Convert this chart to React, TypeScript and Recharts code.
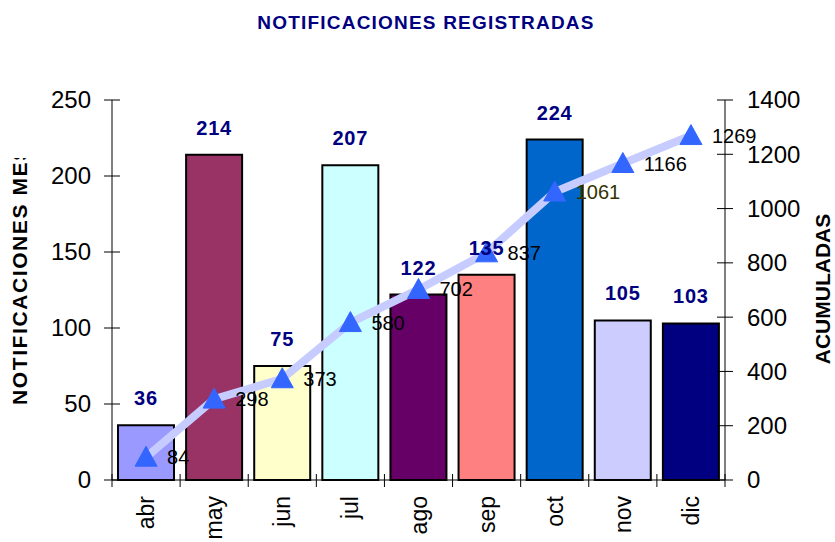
import React from 'react';
import { ComposedChart, Bar, Line, XAxis, YAxis, Cell, LabelList, Customized } from 'recharts';

const months = ['abr', 'may', 'jun', 'jul', 'ago', 'sep', 'oct', 'nov', 'dic'];
const monthly = [36, 214, 75, 207, 122, 135, 224, 105, 103];
const cumulative = [84, 298, 373, 580, 702, 837, 1061, 1166, 1269];
const barColors = ['#9999FF', '#993366', '#FFFFCC', '#CCFFFF', '#660066', '#FF8080', '#0066CC', '#CCCCFF', '#000080'];
const cumLabelColors = ['#000', '#000', '#000', '#000', '#000', '#000', '#333300', '#000', '#000'];
const leftTicks = [0, 50, 100, 150, 200, 250];
const rightTicks = [0, 200, 400, 600, 800, 1000, 1200, 1400];

const data = months.map((m, i) => ({ month: m, monthly: monthly[i], cumulative: cumulative[i] }));

const W = 835;
const H = 542;
const PLOT_LEFT = 112;
const PLOT_RIGHT = 725;
const PLOT_TOP = 100;
const PLOT_BOTTOM = 480;
const BAND = (PLOT_RIGHT - PLOT_LEFT) / months.length;
const FONT = '"Liberation Sans", Arial, sans-serif';

const LeftTick = (props: any) => {
  const { x, y, payload } = props;
  return (
    <g>
      <line x1={x - 8} x2={x + 8} y1={y} y2={y} stroke="#000" strokeWidth={1} />
      <text x={x - 21} y={y} dy="0.35em" textAnchor="end" fontSize={24} fontFamily={FONT} fill="#000">
        {payload.value}
      </text>
    </g>
  );
};

const RightTick = (props: any) => {
  const { x, y, payload } = props;
  return (
    <g>
      <line x1={x - 8} x2={x + 8} y1={y} y2={y} stroke="#000" strokeWidth={1} />
      <text x={x + 22} y={y} dy="0.35em" textAnchor="start" fontSize={24} fontFamily={FONT} fill="#000">
        {payload.value}
      </text>
    </g>
  );
};

const XTick = (props: any) => {
  const { x, y, payload, index } = props;
  const ty = y + 16;
  return (
    <g>
      <line x1={x - BAND / 2} x2={x - BAND / 2} y1={y - 6} y2={y + 7} stroke="#000" strokeWidth={1} />
      {index === months.length - 1 && (
        <line x1={x + BAND / 2} x2={x + BAND / 2} y1={y - 6} y2={y + 7} stroke="#000" strokeWidth={1} />
      )}
      <text
        x={x}
        y={ty}
        dy="0.35em"
        textAnchor="end"
        fontSize={23}
        fontFamily={FONT}
        fill="#000"
        transform={`rotate(-90, ${x}, ${ty})`}
      >
        {payload.value}
      </text>
    </g>
  );
};

const Triangle = (props: any) => {
  const { cx, cy, index } = props;
  if (cx == null || cy == null) return <g key={index} />;
  return (
    <polygon
      key={index}
      points={`${cx},${cy - 11} ${cx - 11},${cy + 9} ${cx + 11},${cy + 9}`}
      fill="#3366FF"
      stroke="#3366FF"
      strokeWidth={1}
    />
  );
};

const BarLabel = (props: any) => {
  const { x, y, width, value } = props;
  return (
    <text
      x={x + width / 2}
      y={y - 20}
      textAnchor="middle"
      fontSize={20}
      fontWeight="bold"
      letterSpacing={0.8}
      fontFamily={FONT}
      fill="#000080"
    >
      {value}
    </text>
  );
};

const LineLabel = (props: any) => {
  const { x, y, value, index } = props;
  return (
    <text
      x={x + 21}
      y={y}
      dy="0.35em"
      textAnchor="start"
      fontSize={20}
      fontFamily={FONT}
      fill={cumLabelColors[index] || '#000'}
    >
      {value}
    </text>
  );
};

const Decorations = () => (
  <g>
    <defs>
      <clipPath id="leftLabelClip">
        <rect x={0} y={158} width={60} height={300} />
      </clipPath>
    </defs>
    <text
      x={426}
      y={29}
      textAnchor="middle"
      fontSize={19}
      fontWeight="bold"
      letterSpacing={1.2}
      fontFamily={FONT}
      fill="#000080"
    >
      NOTIFICACIONES REGISTRADAS
    </text>
    <g clipPath="url(#leftLabelClip)">
      <text
        x={20}
        y={405}
        dy="0.35em"
        textAnchor="start"
        fontSize={21}
        fontWeight="bold"
        letterSpacing={1.6}
        fontFamily={FONT}
        fill="#000"
        transform="rotate(-90, 20, 405)"
      >
        NOTIFICACIONES MES
      </text>
    </g>
    <text
      x={823}
      y={289}
      dy="0.35em"
      textAnchor="middle"
      fontSize={21}
      fontWeight="bold"
      fontFamily={FONT}
      fill="#000"
      transform="rotate(-90, 823, 289)"
    >
      ACUMULADAS
    </text>
  </g>
);

export default function App() {
  return (
    <div style={{ position: 'absolute', left: 0, top: 0, width: W, height: H, background: '#fff' }}>
      <ComposedChart
        width={W}
        height={H}
        data={data}
        margin={{ top: PLOT_TOP, right: 0, bottom: 0, left: 0 }}
        barCategoryGap={6}
      >
        <XAxis
          dataKey="month"
          height={H - PLOT_BOTTOM}
          tickSize={0}
          tickMargin={0}
          tickLine={false}
          axisLine={{ stroke: '#000', strokeWidth: 1 }}
          tick={<XTick />}
          interval={0}
        />
        <YAxis
          yAxisId="left"
          orientation="left"
          width={PLOT_LEFT}
          domain={[0, 250]}
          ticks={leftTicks}
          tickSize={0}
          tickMargin={0}
          tickLine={false}
          axisLine={{ stroke: '#000', strokeWidth: 1 }}
          tick={<LeftTick />}
          interval={0}
        />
        <YAxis
          yAxisId="right"
          orientation="right"
          width={W - PLOT_RIGHT}
          domain={[0, 1400]}
          ticks={rightTicks}
          tickSize={0}
          tickMargin={0}
          tickLine={false}
          axisLine={{ stroke: '#000', strokeWidth: 1 }}
          tick={<RightTick />}
          interval={0}
        />
        <Bar yAxisId="left" dataKey="monthly" stroke="#000" strokeWidth={2} isAnimationActive={false}>
          {data.map((d, i) => (
            <Cell key={d.month} fill={barColors[i]} />
          ))}
          <LabelList dataKey="monthly" content={<BarLabel />} />
        </Bar>
        <Line
          yAxisId="right"
          dataKey="cumulative"
          type="linear"
          stroke="#C6CCFF"
          strokeWidth={8}
          dot={<Triangle />}
          activeDot={false}
          isAnimationActive={false}
        >
          <LabelList dataKey="cumulative" content={<LineLabel />} />
        </Line>
        <Customized component={<Decorations />} />
      </ComposedChart>
    </div>
  );
}
